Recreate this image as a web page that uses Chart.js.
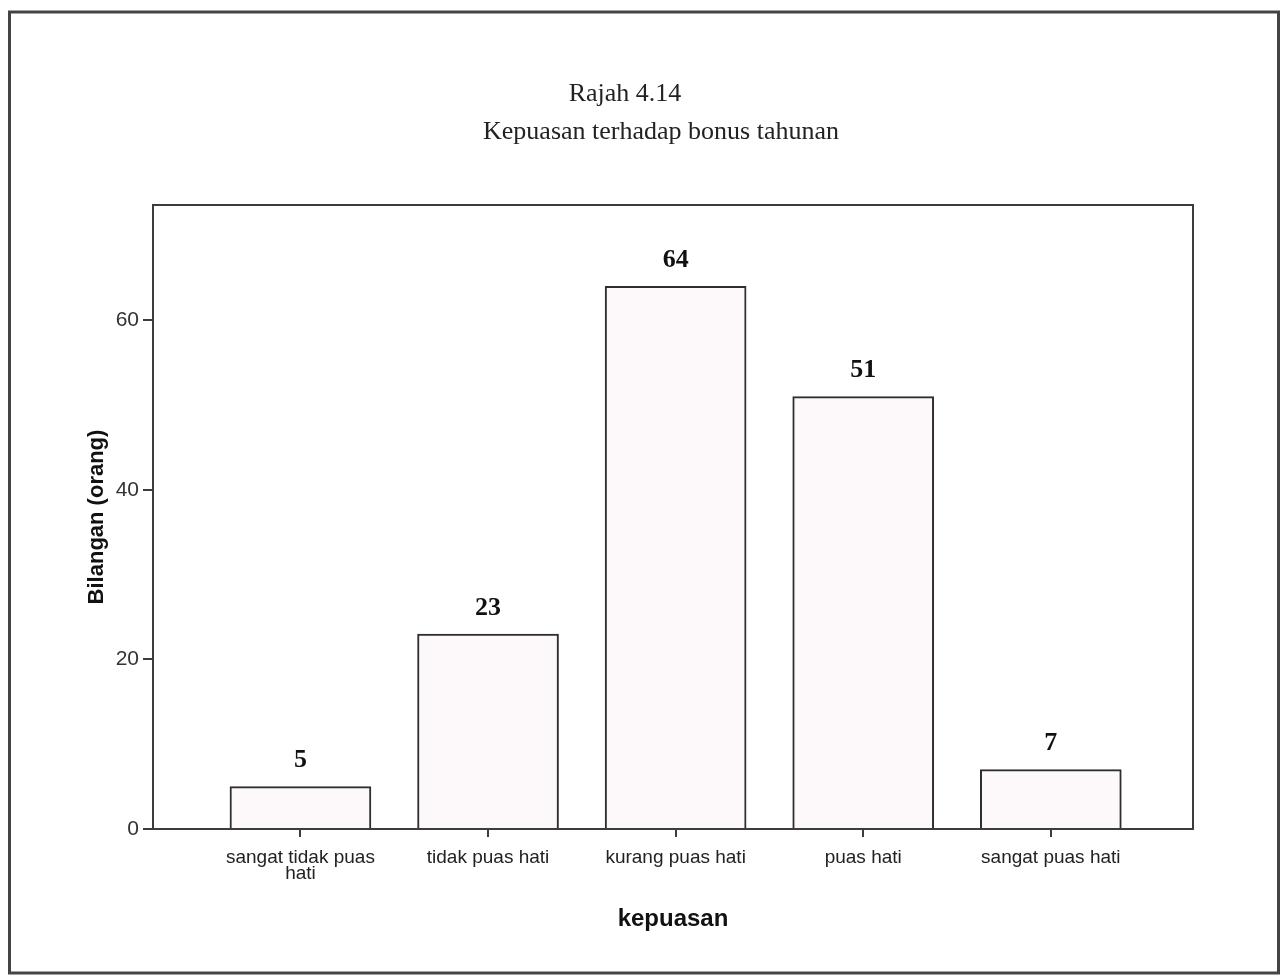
<!DOCTYPE html>
<html>
<head>
<meta charset="utf-8">
<title>Rajah 4.14</title>
<script src="https://cdn.jsdelivr.net/npm/chart.js@4.4.1/dist/chart.umd.min.js"></script>
<style>
  html, body { margin: 0; padding: 0; background: #fff; }
  #wrap { width: 1284px; height: 975px; }
</style>
</head>
<body>
<div id="wrap"><canvas id="kepuasanChart" width="1284" height="975"></canvas></div>
<script>
// Data
const titleLines = ['Rajah 4.14', 'Kepuasan terhadap bonus tahunan'];
const categories = [['sangat tidak puas', 'hati'], 'tidak puas hati', 'kurang puas hati', 'puas hati', 'sangat puas hati'];
const counts = [5, 23, 64, 51, 7];
const yTicks = [0, 20, 40, 60];
const yMax = 73.6;

const lineColor = '#3c3c3c';

// Frame, plot box, titles and value labels
const decor = {
    id: 'decor',
    beforeDraw(chart) {
        const ctx = chart.ctx;
        ctx.save();
        ctx.fillStyle = '#fff';
        ctx.fillRect(0, 0, chart.width, chart.height);
        ctx.restore();
    },
    afterDraw(chart) {
        const { ctx, chartArea: a } = chart;
        ctx.save();
        // box round the plot
        ctx.strokeStyle = lineColor;
        ctx.lineWidth = 2;
        ctx.strokeRect(a.left, a.top, a.right - a.left, a.bottom - a.top);
        // outer frame
        ctx.lineWidth = 3;
        ctx.strokeStyle = '#444';
        ctx.strokeRect(9.5, 12, 1269, 961);
        // titles
        ctx.fillStyle = '#222';
        ctx.textAlign = 'center';
        ctx.textBaseline = 'middle';
        ctx.font = '26px "Liberation Serif", "Times New Roman", serif';
        ctx.fillText(titleLines[0], 625, 94);
        ctx.fillText(titleLines[1], 661, 132);
        // counts above bars
        ctx.fillStyle = '#111';
        ctx.font = 'bold 26px "Liberation Serif", "Times New Roman", serif';
        const meta = chart.getDatasetMeta(0);
        meta.data.forEach(function(bar, i) {
            ctx.fillText(String(counts[i]), bar.x, bar.y - 26);
        });
        ctx.restore();
    }
};

const ctx = document.getElementById('kepuasanChart').getContext('2d');
new Chart(ctx, {
    type: 'bar',
    data: {
        datasets: [{
            data: counts.map((v, i) => ({ x: i, y: v })),
            backgroundColor: '#fdf8fa',
            borderColor: '#2e2e2e',
            borderWidth: 2,
            barThickness: 141
        }]
    },
    options: {
        responsive: false,
        animation: false,
        layout: { padding: { left: 80, top: 205, right: 91, bottom: 37 } },
        plugins: {
            legend: { display: false },
            tooltip: { enabled: false }
        },
        scales: {
            x: {
                type: 'linear',
                min: -0.786,
                max: 4.758,
                offset: false,
                afterBuildTicks(scale) {
                    scale.ticks = categories.map((c, i) => ({ value: i }));
                },
                afterFit(scale) { scale.height = 109; },
                border: { display: true, color: lineColor, width: 2 },
                grid: { offset: false, drawOnChartArea: false, drawTicks: true, tickLength: 8, color: lineColor, lineWidth: 2 },
                ticks: {
                    autoSkip: false,
                    maxRotation: 0,
                    padding: 13,
                    color: '#222',
                    font: { family: '"Liberation Sans", Arial, sans-serif', size: 19, lineHeight: 0.82 },
                    callback: (v) => categories[v]
                },
                title: {
                    display: true,
                    text: 'kepuasan',
                    color: '#111',
                    font: { family: '"Liberation Sans", Arial, sans-serif', size: 24, weight: 'bold' }
                }
            },
            y: {
                min: 0,
                max: yMax,
                afterBuildTicks(scale) {
                    scale.ticks = yTicks.map(v => ({ value: v }));
                },
                afterFit(scale) { scale.width = 73; },
                border: { display: true, color: lineColor, width: 2 },
                grid: { drawOnChartArea: false, drawTicks: true, tickLength: 10, color: lineColor, lineWidth: 2 },
                ticks: {
                    padding: 4,
                    color: '#333',
                    font: { family: '"Liberation Sans", Arial, sans-serif', size: 21 }
                },
                title: {
                    display: true,
                    text: 'Bilangan (orang)',
                    color: '#111',
                    font: { family: '"Liberation Sans", Arial, sans-serif', size: 22, weight: 'bold' }
                }
            }
        }
    },
    plugins: [decor]
});
</script>
</body>
</html>
